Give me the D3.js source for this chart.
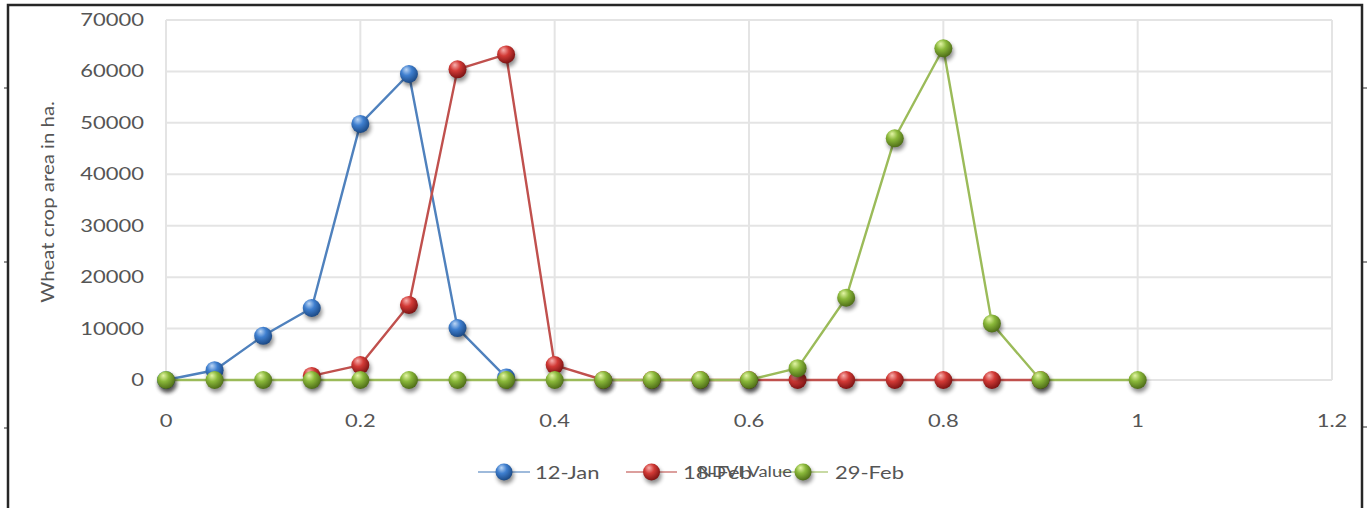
<!DOCTYPE html>
<html>
<head>
<meta charset="utf-8">
<script src="https://cdn.jsdelivr.net/npm/d3@7"></script>
<style>
  html, body { margin: 0; padding: 0; background: #fff; }
  svg { display: block; }
  text { font-family: Lato, "Open Sans", sans-serif; fill: #555555; }
</style>
</head>
<body>
<svg id="chart" width="1369" height="508"></svg>
<script>
// NDVI classes and wheat area (ha) for each acquisition date
const janNdvi = [0, 0.05, 0.1, 0.15, 0.2, 0.25, 0.3, 0.35];
const janArea = [0, 1900, 8600, 14000, 49800, 59500, 10100, 500];

const febNdvi = [0.15, 0.2, 0.25, 0.3, 0.35, 0.4, 0.45, 0.5, 0.55, 0.6, 0.65, 0.7, 0.75, 0.8, 0.85, 0.9];
const febArea = [800, 2900, 14600, 60400, 63300, 2900, 0, 0, 0, 0, 0, 0, 0, 0, 0, 0];

const latNdvi = [0, 0.05, 0.1, 0.15, 0.2, 0.25, 0.3, 0.35, 0.4, 0.45, 0.5, 0.55, 0.6, 0.65, 0.7, 0.75, 0.8, 0.85, 0.9, 1.0];
const latArea = [0, 0, 0, 0, 0, 0, 0, 0, 0, 0, 0, 0, 0, 2300, 16000, 47000, 64500, 11000, 0, 0];

const seriesNames = ["12-Jan", "18-Feb", "29-Feb"];
const xTicks = [0, 0.2, 0.4, 0.6, 0.8, 1, 1.2];
const yTicks = [0, 10000, 20000, 30000, 40000, 50000, 60000, 70000];
const yTitle = "Wheat crop area in ha.";
const xTitle = "NDVI Value";

const palette = [
  { line: "#4f81bd", hi: "#bcd6f5", mid: "#3f7fcf", lo: "#1c4a86" },
  { line: "#c0504d", hi: "#f7b0ae", mid: "#d23a36", lo: "#7e1414" },
  { line: "#9bbb59", hi: "#e3f5a6", mid: "#8ab83a", lo: "#4f6e18" }
];

const series = [
  { name: seriesNames[0], pts: janNdvi.map((x, i) => [x, janArea[i]]) },
  { name: seriesNames[1], pts: febNdvi.map((x, i) => [x, febArea[i]]) },
  { name: seriesNames[2], pts: latNdvi.map((x, i) => [x, latArea[i]]) }
];

const svg = d3.select("#chart");
const W = 1369, H = 508;
const plot = { left: 166, right: 1332, top: 20, bottom: 380 };

const x = d3.scaleLinear().domain([0, 1.2]).range([plot.left, plot.right]);
const y = d3.scaleLinear().domain([0, 70000]).range([plot.bottom, plot.top]);

const defs = svg.append("defs");
palette.forEach((p, i) => {
  const g = defs.append("radialGradient")
    .attr("id", "ball" + i)
    .attr("cx", "40%").attr("cy", "35%").attr("r", "65%")
    .attr("fx", "35%").attr("fy", "25%");
  g.append("stop").attr("offset", "0%").attr("stop-color", p.hi);
  g.append("stop").attr("offset", "45%").attr("stop-color", p.mid);
  g.append("stop").attr("offset", "100%").attr("stop-color", p.lo);
});
defs.append("filter").attr("id", "shadow")
  .attr("x", "-100%").attr("y", "-100%").attr("width", "300%").attr("height", "300%")
  .append("feGaussianBlur").attr("stdDeviation", 2.2);

// Outer frame
svg.append("rect").attr("width", W).attr("height", H).attr("fill", "#fff");
const frame = svg.append("g").attr("stroke", "#262626").attr("fill", "none");
frame.append("path").attr("d", `M8,${H} V5 H1362 V${H}`).attr("stroke-width", 2.5);
[88, 262, 428].forEach(v => frame.append("line").attr("x1", 4).attr("x2", 8).attr("y1", v).attr("y2", v).attr("stroke-width", 1));
[88, 262, 427].forEach(v => frame.append("line").attr("x1", 1362).attr("x2", 1367).attr("y1", v).attr("y2", v).attr("stroke-width", 1));

// Stretched label helper
function label(g, tx, ty, txt, anchor, size, sx) {
  return g.append("text")
    .attr("transform", `translate(${tx},${ty}) scale(${sx || 1.22},1)`)
    .attr("text-anchor", anchor)
    .attr("font-size", size)
    .text(txt);
}

// Gridlines
const grid = svg.append("g").attr("stroke", "#e4e4e4").attr("stroke-width", 2).attr("fill", "none");
yTicks.forEach(t => grid.append("line")
  .attr("x1", plot.left).attr("x2", plot.right).attr("y1", y(t)).attr("y2", y(t)));
xTicks.forEach(t => grid.append("line")
  .attr("x1", x(t)).attr("x2", x(t)).attr("y1", plot.top).attr("y2", plot.bottom));

// Axis tick labels
const yAxis = svg.append("g");
yTicks.forEach(t => label(yAxis, 144, y(t) + 6, String(t), "end", 18));
const xAxis = svg.append("g");
xTicks.forEach(t => label(xAxis, x(t), 427, String(t), "middle", 18));

// Axis titles
svg.append("text")
  .attr("transform", `translate(54,202) rotate(-90) scale(1.2,1)`)
  .attr("text-anchor", "middle").attr("font-size", 17)
  .text(yTitle);

// Series lines
const line = d3.line().x(d => x(d[0])).y(d => y(d[1]));
const linesG = svg.append("g");
series.forEach((s, i) => {
  linesG.append("path")
    .datum(s.pts)
    .attr("d", line)
    .attr("fill", "none")
    .attr("stroke", palette[i].line)
    .attr("stroke-width", 2.4)
    .attr("stroke-linejoin", "round");
});

// Markers with drop shadow
function ball(g, cx, cy, i, r) {
  g.append("circle").attr("cx", cx + 1.5).attr("cy", cy + 3.5).attr("r", r)
    .attr("fill", "#000").attr("opacity", 0.45).attr("filter", "url(#shadow)");
  g.append("circle").attr("cx", cx).attr("cy", cy).attr("r", r)
    .attr("fill", `url(#ball${i})`);
}
series.forEach((s, i) => {
  const g = svg.append("g");
  s.pts.forEach(d => ball(g, x(d[0]), y(d[1]), i, 9));
});

// Legend
const legend = svg.append("g");
const legendY = 472;
const legendItems = [
  { x0: 478, x1: 530, text: 535 },
  { x0: 626, x1: 677, text: 683 },
  { x0: 778, x1: 828, text: 835 }
];
legendItems.forEach((it, i) => {
  legend.append("line").attr("x1", it.x0).attr("x2", it.x1)
    .attr("y1", legendY).attr("y2", legendY)
    .attr("stroke", palette[i].line).attr("stroke-opacity", 0.55).attr("stroke-width", 2);
  ball(legend, (it.x0 + it.x1) / 2, legendY, i, 8.5);
  label(legend, it.text, legendY + 7, seriesNames[i], "start", 18);
});

// X axis title sits over the legend row
label(svg, 745, legendY + 5, xTitle, "middle", 16, 1.15);
</script>
</body>
</html>
